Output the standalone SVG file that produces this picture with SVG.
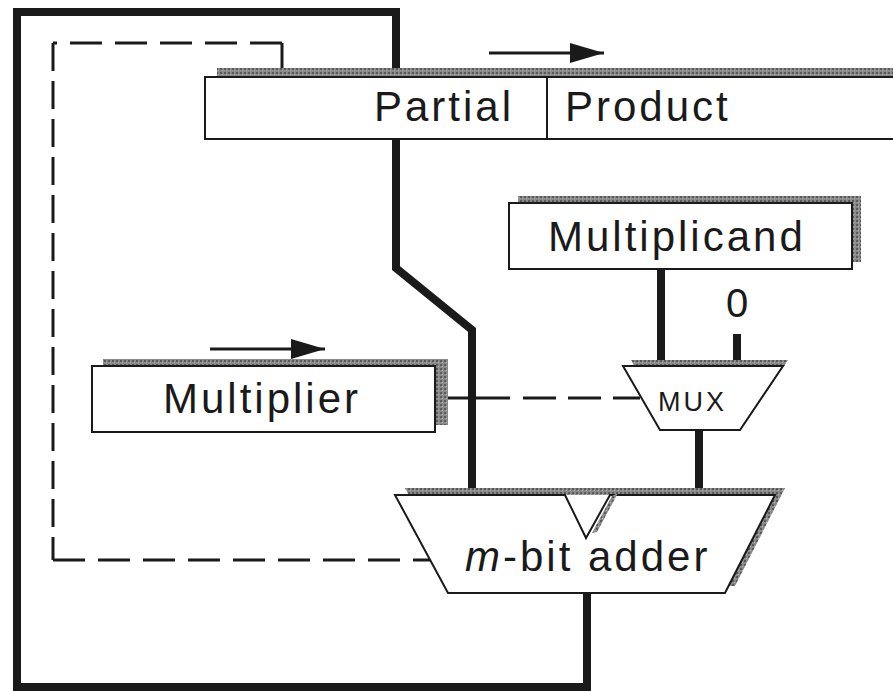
<svg xmlns="http://www.w3.org/2000/svg" width="893" height="691" viewBox="0 0 893 691">
<defs>
<marker id="ah" markerUnits="userSpaceOnUse" markerWidth="36" markerHeight="22" refX="34" refY="10" orient="auto">
<path d="M0,0 L34,10 L0,20 Z" fill="#1a1a1a"/>
</marker>
<pattern id="shade" width="4" height="4" patternUnits="userSpaceOnUse">
<rect width="4" height="4" fill="#8a8a8a"/>
<rect width="2" height="2" fill="#5a5a5a"/>
<rect x="2" y="2" width="1" height="1" fill="#b0b0b0"/>
</pattern>
</defs>
<style>
.thick{fill:none;stroke:#1a1a1a;stroke-width:8;stroke-linejoin:miter}
.dash{fill:none;stroke:#1a1a1a;stroke-width:3}
.box{fill:#fff;stroke:#1a1a1a;stroke-width:2}
.shadow{fill:url(#shade)}
.lbl{font-family:"Liberation Sans",Arial,sans-serif;font-size:42px;fill:#1a1a1a;letter-spacing:3px}
.arrow{stroke:#1a1a1a;stroke-width:3;fill:none}
</style>
<rect width="893" height="691" fill="#fff"/>
<g id="connectors">
<path class="thick" d="M587,593 L587,687 L17,687 L17,12 L396,12 L396,268 L472,330 L472,495"/>
<line class="thick" x1="661" y1="269" x2="661" y2="373"/>
<line class="thick" x1="737" y1="334" x2="737" y2="368"/>
<line class="thick" x1="699" y1="430" x2="699" y2="495"/>
<path class="dash" d="M282,68 L282,43" />
<path class="dash" d="M282,43 L53,43" stroke-dasharray="32 13"/>
<path class="dash" d="M53,43 L53,560" stroke-dasharray="28 10"/>
<path class="dash" d="M53,560 L430,560" stroke-dasharray="32 13"/>
<path class="dash" d="M436,398 L510,398"/>
<path class="dash" d="M523,398 L640,398" stroke-dasharray="33 12"/>
<line class="arrow" x1="489" y1="53" x2="604" y2="53" marker-end="url(#ah)"/>
<line class="arrow" x1="210" y1="349" x2="325" y2="349" marker-end="url(#ah)"/>
</g>
<g id="partial-product">
<rect class="shadow" x="217" y="68" width="676" height="62"/>
<rect class="box" x="205" y="77" width="690" height="62"/>
<line x1="547" y1="77" x2="547" y2="139" stroke="#1a1a1a" stroke-width="2"/>
<text class="lbl" x="374" y="121">Partial</text>
<text class="lbl" x="565" y="121">Product</text>
</g>
<g id="multiplicand">
<rect class="shadow" x="518" y="196" width="343" height="66"/>
<rect class="box" x="509" y="203" width="343" height="66"/>
<text class="lbl" x="548" y="251">Multiplicand</text>
</g>
<g id="zero">
<text x="737" y="317" text-anchor="middle" font-family="Liberation Sans, Arial, sans-serif" font-size="40" fill="#1a1a1a">0</text>
</g>
<g id="multiplier">
<rect class="shadow" x="103" y="359" width="345" height="66"/>
<rect class="box" x="92" y="366" width="343" height="66"/>
<text class="lbl" x="163" y="413">Multiplier</text>
</g>
<g id="mux">
<polygon class="shadow" points="631,360 788,360 745,424 668,424"/>
<polygon class="box" points="623,366 783,366 740,430 660,430"/>
<text x="658" y="411" font-family="Liberation Sans, Arial, sans-serif" font-size="27" letter-spacing="3" fill="#1a1a1a">MUX</text>
</g>
<g id="adder">
<polygon class="shadow" points="405,488 785,488 735,586 458,586"/>
<polygon points="564,495 586,539 611,495" fill="#fff"/>
<polygon class="box" points="395,495 565,495 586,538 610,495 775,495 725,593 448,593"/>
<polygon class="shadow" points="612,496 618,493 597,532 592,533"/>
<text class="lbl" x="465" y="571"><tspan font-style="italic">m</tspan>-bit adder</text>
</g>
</svg>
